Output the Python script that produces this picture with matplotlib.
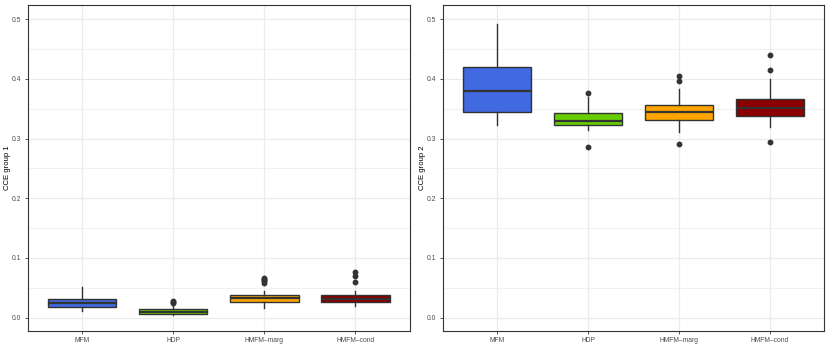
from matplotlib import pyplot as plt
import numpy as np

plt.rcParams['font.family'] = ['Liberation Sans', 'DejaVu Sans']

methods = ['MFM', 'HDP', 'HMFM\u2013marg', 'HMFM\u2013cond']
colors = ['#4169E1', '#66CD00', '#FFA500', '#8B0000']

# group 1: whisker low, Q1, median, Q3, whisker high, outliers
g1_wlo = [0.0109, 0.0047, 0.0154, 0.0198]
g1_q1 = [0.0176, 0.0064, 0.0260, 0.0260]
g1_med = [0.0248, 0.0097, 0.0320, 0.0315]
g1_q3 = [0.0315, 0.0137, 0.0377, 0.0377]
g1_whi = [0.0506, 0.0210, 0.0444, 0.0444]
g1_out = [[], [0.024, 0.026, 0.028], [0.058, 0.061, 0.063, 0.065, 0.067],
          [0.060, 0.0696, 0.077]]

# group 2
g2_wlo = [0.3228, 0.3144, 0.3105, 0.3190]
g2_q1 = [0.3440, 0.3223, 0.3317, 0.3379]
g2_med = [0.3798, 0.3290, 0.3446, 0.3508]
g2_q3 = [0.4195, 0.3424, 0.3568, 0.3659]
g2_whi = [0.4920, 0.3700, 0.3826, 0.3994]
g2_out = [[], [0.2854, 0.377], [0.291, 0.397, 0.405], [0.2948, 0.4155, 0.4396]]


def make_stats(wlo, q1, med, q3, whi, out):
    stats = []
    for i in range(len(methods)):
        stats.append({'whislo': wlo[i], 'q1': q1[i], 'med': med[i], 'q3': q3[i],
                      'whishi': whi[i], 'fliers': out[i]})
    return stats


def draw_panel(ax, stats, ylabel):
    parts = ax.bxp(stats, positions=range(1, 5), widths=0.75, patch_artist=True,
                   showfliers=True, zorder=3,
                   boxprops=dict(edgecolor='#333333', linewidth=1.0),
                   medianprops=dict(color='#333333', linewidth=1.6),
                   whiskerprops=dict(color='#333333', linewidth=1.0),
                   capprops=dict(linewidth=0),
                   flierprops=dict(marker='o', markerfacecolor='#333333',
                                   markeredgecolor='#333333', markersize=3.2))
    for patch, c in zip(parts['boxes'], colors):
        patch.set_facecolor(c)
    ax.set_xlim(0.4, 4.6)
    ax.set_ylim(-0.0221, 0.5245)
    ax.set_xticks(range(1, 5))
    ax.set_xticklabels(methods)
    ax.set_yticks([0.0, 0.1, 0.2, 0.3, 0.4, 0.5])
    ax.set_yticks([0.05, 0.15, 0.25, 0.35, 0.45], minor=True)
    ax.grid(which='major', color='#EBEBEB', linewidth=0.9, zorder=0)
    ax.grid(which='minor', axis='y', color='#EBEBEB', linewidth=0.5, zorder=0)
    ax.set_axisbelow(True)
    ax.tick_params(axis='both', which='major', labelsize=4.9, labelcolor='#4D4D4D',
                   color='#333333', length=2.5, width=0.6, pad=2)
    ax.tick_params(which='minor', length=0)
    ax.set_ylabel(ylabel, fontsize=5.6)
    ax.yaxis.set_label_coords(-0.044, 0.5)
    for s in ax.spines.values():
        s.set_color('#333333')
        s.set_linewidth(0.8)


fig = plt.figure(figsize=(8.3, 3.56), dpi=100)
ax1 = fig.add_axes([0.0334, 0.071, 0.4606, 0.916])
ax2 = fig.add_axes([0.5334, 0.071, 0.4597, 0.916])

draw_panel(ax1, make_stats(g1_wlo, g1_q1, g1_med, g1_q3, g1_whi, g1_out), 'CCE group 1')
draw_panel(ax2, make_stats(g2_wlo, g2_q1, g2_med, g2_q3, g2_whi, g2_out), 'CCE group 2')

plt.savefig('out.png', dpi=100)
